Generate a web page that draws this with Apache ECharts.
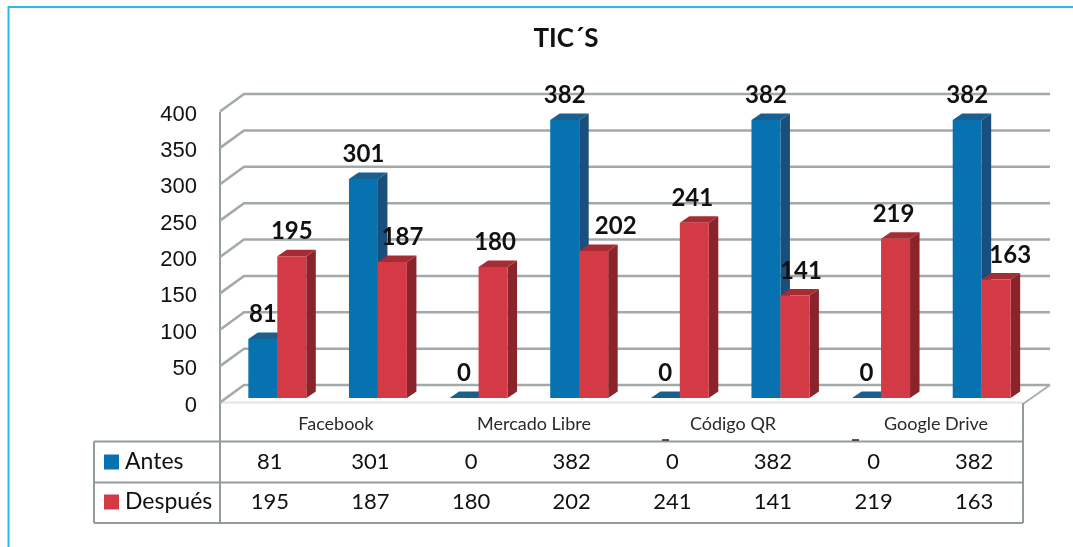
<!DOCTYPE html>
<html>
<head>
<meta charset="utf-8">
<title>TIC´S</title>
<style>
  html, body { margin: 0; padding: 0; background: #fff; }
  #chart { width: 1073px; height: 547px; }
</style>
<script src="https://cdn.jsdelivr.net/npm/echarts@6/dist/echarts.min.js"></script>
</head>
<body>
<div id="chart"></div>
<script>
// data
const groups = ["Facebook", "Mercado Libre", "Código QR", "Google Drive"];
const antes = [81, 301, 0, 382, 0, 382, 0, 382];
const despues = [195, 187, 180, 202, 241, 141, 219, 163];
const yTicks = [0, 50, 100, 150, 200, 250, 300, 350, 400];

// each group takes two columns of bars
const columns = groups.flatMap((g) => [g, g]);

// hand moved labels in the original (px from bar centre)
const antesShift = [0, 0, 0, 0, 0, 0, 0, 0];
const despuesShift = [0, 10, 2, 22, -2, 6, -2, 14];

const groupLabelX = [336, 534, 733, 936];
const wall = { front: 220, back: 244, right: 1050, frontDy: 4.5, backDy: -13 };
const table = { left: 94, mid: 220, right: 1023, top: 441.5, row1: 482.5, bottom: 523 };
const depth = { x: 9.5, y: -6.5 };

const textFont = "Lato";
const gridColor = "#a2a9a9";
const lineColor = "#929c9c";
const blue = { front: "#0672b0", side: "#1a4e7c", top: "#1b5f91" };
const red = { front: "#d33a45", side: "#8a242a", top: "#a62c34" };

const chart = echarts.init(document.getElementById("chart"));

function barItem(colors, side) {
  return function (params, api) {
    const idx = api.value(0);
    const top = api.coord([idx, api.value(1)]);
    const base = api.coord([idx, 0]);
    const w = api.size([1, 0])[0] * 0.288;
    const x0 = side < 0 ? top[0] - w : top[0];
    const x1 = x0 + w;
    const dx = depth.x;
    const dy = depth.y;
    return {
      type: "group",
      children: [
        {
          type: "polygon",
          shape: { points: [[x1, top[1]], [x1 + dx, top[1] + dy], [x1 + dx, base[1] + dy], [x1, base[1]]] },
          style: { fill: colors.side },
        },
        {
          type: "polygon",
          shape: { points: [[x0, top[1]], [x0 + dx, top[1] + dy], [x1 + dx, top[1] + dy], [x1, top[1]]] },
          style: { fill: colors.top },
        },
        {
          type: "rect",
          shape: { x: x0, y: top[1], width: w, height: base[1] - top[1] },
          style: { fill: colors.front },
        },
      ],
    };
  };
}

function labelItem(side, shifts) {
  return function (params, api) {
    const idx = api.value(0);
    const pos = api.coord([idx, api.value(1)]);
    const w = api.size([1, 0])[0] * 0.288;
    return {
      type: "text",
      style: {
        text: String(api.value(1)),
        x: pos[0] + (side * w) / 2 + shifts[idx],
        y: pos[1] - 24.5,
        align: "center",
        verticalAlign: "middle",
        fontFamily: textFont,
        fontWeight: "bold",
        fontSize: 24,
        fill: "#111",
      },
    };
  };
}

function cellText(text, x, y) {
  return {
    type: "text",
    style: {
      text: text,
      x: x,
      y: y,
      align: "center",
      verticalAlign: "middle",
      fontFamily: textFont,
      fontSize: 22,
      fill: "#111",
    },
  };
}

function hLine(x1, x2, y, color, width) {
  return {
    type: "line",
    shape: { x1: x1, y1: y, x2: x2, y2: y },
    style: { stroke: color || lineColor, lineWidth: width || 2 },
  };
}
function vLine(x, y1, y2) {
  return {
    type: "line",
    shape: { x1: x, y1: y1, x2: x, y2: y2 },
    style: { stroke: lineColor, lineWidth: 2 },
  };
}
function legendRow(name, color, y) {
  return [
    { type: "rect", shape: { x: 104, y: y - 7.5, width: 15, height: 15 }, style: { fill: color } },
    {
      type: "text",
      style: {
        text: name,
        x: 125,
        y: y,
        verticalAlign: "middle",
        fontFamily: textFont,
        fontSize: 23,
        fill: "#111",
      },
    },
  ];
}

const graphics = [
  // chart frame of the page
  hLine(8, 1073, 7, "#2db7f2", 2),
  { type: "line", shape: { x1: 8.5, y1: 6, x2: 8.5, y2: 547 }, style: { stroke: "#2db7f2", lineWidth: 2 } },
  // floor
  hLine(220, 1023, 402.5, "#e2e4e4", 2),
  {
    type: "line",
    shape: { x1: 1023, y1: 404, x2: 1050, y2: 385 },
    style: { stroke: "#a9afaf", lineWidth: 2 },
  },
  // table
  vLine(wall.front, 112, table.bottom),
  vLine(table.right, 403, table.bottom),
  vLine(table.left, table.top, table.bottom),
  hLine(table.left, table.right, table.top),
  hLine(table.left, table.right, table.row1),
  hLine(table.left, table.right, table.bottom),
  ...legendRow("Antes", blue.front, 462),
  ...legendRow("Después", red.front, 502),
  // clipped descenders under the group names
  hLine(662, 669, 440, "#222", 1.5),
  hLine(852, 859, 440, "#222", 1.5),
  ...groups.map((g, i) => ({
    type: "text",
    style: {
      text: g,
      x: groupLabelX[i],
      y: 424,
      align: "center",
      verticalAlign: "middle",
      fontFamily: textFont,
      fontSize: 18,
      fill: "#2a2a2a",
    },
  })),
].map((el) => Object.assign({ silent: true }, el));

const option = {
  backgroundColor: "#fff",
  animation: false,
  title: {
    text: "TIC´S",
    left: 561,
    top: 21,
    textAlign: "center",
    textStyle: { fontFamily: textFont, fontWeight: "bold", fontSize: 26, color: "#111" },
  },
  grid: { left: 227, right: 41, top: 107, bottom: 149 },
  xAxis: {
    type: "category",
    data: columns,
    axisLine: { show: false },
    axisTick: { show: false },
    axisLabel: { show: false },
    splitLine: { show: false },
  },
  yAxis: {
    type: "value",
    min: 0,
    max: 400,
    interval: 50,
    axisLine: { show: false },
    axisTick: { show: false },
    splitLine: { show: false },
    axisLabel: {
      margin: 30,
      verticalAlign: "top",
      lineHeight: 15,
      fontFamily: "Liberation Sans",
      fontSize: 22,
      color: "#111",
    },
  },
  graphic: { elements: graphics },
  series: [
    {
      name: "wall",
      type: "custom",
      z: 1,
      clip: false,
      silent: true,
      data: yTicks.map((v) => [0, v]),
      renderItem: (params, api) => {
        const y = api.coord([0, api.value(1)])[1];
        return {
          type: "polyline",
          shape: {
            points: [
              [wall.front, y + wall.frontDy],
              [wall.back, y + wall.backDy],
              [wall.right, y + wall.backDy],
            ],
          },
          style: { stroke: gridColor, lineWidth: 2.5, fill: "none" },
        };
      },
    },
    {
      name: "Antes",
      type: "custom",
      z: 2,
      clip: false,
      data: antes.map((v, i) => [i, v]),
      renderItem: barItem(blue, -1),
    },
    {
      name: "Después",
      type: "custom",
      z: 3,
      clip: false,
      data: despues.map((v, i) => [i, v]),
      renderItem: barItem(red, 1),
    },
    {
      name: "Antes labels",
      type: "custom",
      z: 4,
      clip: false,
      silent: true,
      data: antes.map((v, i) => [i, v]),
      renderItem: labelItem(-1, antesShift),
    },
    {
      name: "Después labels",
      type: "custom",
      z: 4,
      clip: false,
      silent: true,
      data: despues.map((v, i) => [i, v]),
      renderItem: labelItem(1, despuesShift),
    },
    {
      name: "table",
      type: "custom",
      z: 4,
      clip: false,
      silent: true,
      data: antes.map((v, i) => [i, v, despues[i]]),
      renderItem: (params, api) => {
        const idx = api.value(0);
        const x = api.coord([idx, 0])[0] - 7.5;
        return {
          type: "group",
          children: [
            cellText(String(api.value(1)), x, 462),
            cellText(String(api.value(2)), x, 502),
          ],
        };
      },
    },
  ],
};
chart.setOption(option);
</script>
</body>
</html>
